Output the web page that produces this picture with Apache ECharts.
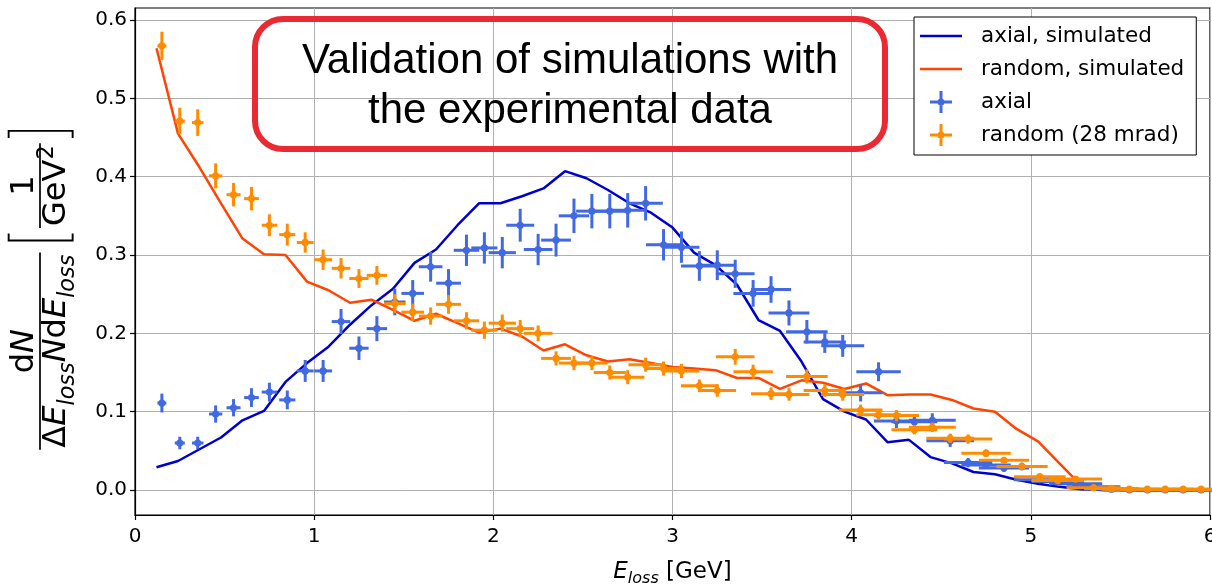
<!DOCTYPE html>
<html>
<head>
<meta charset="utf-8">
<script src="https://cdn.jsdelivr.net/npm/echarts@6/dist/echarts.min.js"></script>
<style>html,body{margin:0;padding:0;background:#fff;overflow:hidden;}#c{width:1212px;height:587px;}</style>
</head>
<body>
<div id="c"></div>
<script>
// ---------- DATA ----------
const xTicks = [0, 1, 2, 3, 4, 5, 6];
const yTicks = [0.0, 0.1, 0.2, 0.3, 0.4, 0.5, 0.6];

// simulated spectra (E_loss in GeV)
const simE = [0.12,0.24,0.36,0.48,0.60,0.72,0.84,0.96,1.08,1.20,1.32,1.44,1.56,1.68,1.80,1.92,2.04,2.16,2.28,2.40,
              2.52,2.64,2.76,2.88,3.00,3.12,3.24,3.36,3.48,3.60,3.72,3.84,3.96,4.08,4.20,4.32,4.44,4.56,4.68,4.80,
              4.92,5.04,5.16,5.28,5.40,5.52,5.64,5.76,5.88,6.00];
const axialSim = [0.029,0.037,0.052,0.067,0.089,0.101,0.138,0.162,0.183,0.211,0.236,0.257,0.290,0.307,0.338,0.366,0.366,0.375,0.385,0.407,
                  0.398,0.383,0.366,0.354,0.335,0.303,0.287,0.262,0.217,0.203,0.164,0.116,0.100,0.090,0.061,0.064,0.042,0.034,0.023,0.020,
                  0.013,0.008,0.004,0.001,0.000,0.000,0.000,0.000,0.000,0.000];
const randomSim = [0.564,0.455,0.412,0.366,0.321,0.301,0.300,0.266,0.255,0.239,0.243,0.230,0.216,0.225,0.213,0.201,0.206,0.196,0.178,0.186,
                   0.172,0.164,0.167,0.162,0.157,0.155,0.153,0.143,0.143,0.129,0.140,0.137,0.129,0.136,0.121,0.122,0.122,0.115,0.104,0.100,
                   0.078,0.062,0.034,0.006,0.002,0.001,0.001,0.001,0.001,0.001];

// experimental data (bin centres, GeV)
const expE = [0.15,0.25,0.35,0.45,0.55,0.65,0.75,0.85,0.95,1.05,1.15,1.25,1.35,1.45,1.55,1.65,1.75,1.85,1.95,2.05,
              2.15,2.25,2.35,2.45,2.55,2.65,2.75,2.85,2.95,3.05,3.15,3.25,3.35,3.45,3.55,3.65,3.75,3.85,3.95,4.05,
              4.15,4.25,4.35,4.45,4.55,4.65,4.75,4.85,4.95,5.05,5.15,5.25,5.35,5.45,5.55,5.65,5.75,5.85,5.95];
const expErrX = [0.025,0.028,0.032,0.037,0.039,0.041,0.043,0.045,0.047,0.050,0.052,0.054,0.057,0.060,0.063,0.066,0.069,0.071,0.073,0.076,
                 0.078,0.080,0.083,0.085,0.088,0.090,0.093,0.096,0.098,0.100,0.103,0.105,0.108,0.110,0.112,0.114,0.116,0.118,0.120,0.122,
                 0.124,0.126,0.128,0.131,0.133,0.135,0.138,0.140,0.142,0.144,0.146,0.148,0.150,0.152,0.154,0.156,0.158,0.160,0.162];
const axialExp = [0.111,0.060,0.060,0.097,0.105,0.118,0.125,0.115,0.152,0.152,0.215,0.181,0.206,0.240,0.251,0.285,0.264,0.306,0.309,0.303,
                  0.338,0.307,0.319,0.350,0.356,0.356,0.357,0.366,0.313,0.310,0.286,0.287,0.276,0.251,0.256,0.226,0.202,0.189,0.184,0.124,
                  0.151,0.088,0.087,0.089,0.063,0.035,0.032,0.028,0.030,0.013,0.011,0.008,0.004,0.001,0.000,0.000,0.000,0.000,0.000];
const axialErrY = [0.012,0.008,0.008,0.011,0.011,0.012,0.012,0.012,0.014,0.014,0.016,0.015,0.016,0.017,0.017,0.019,0.018,0.020,0.020,0.020,
                   0.021,0.020,0.021,0.022,0.022,0.022,0.022,0.022,0.020,0.020,0.019,0.019,0.018,0.017,0.017,0.016,0.015,0.014,0.014,0.011,
                   0.012,0.009,0.009,0.009,0.008,0.006,0.005,0.005,0.005,0.003,0.003,0.003,0.002,0.001,0.001,0.001,0.001,0.001,0.001];
const randomExp = [0.567,0.471,0.469,0.401,0.377,0.372,0.338,0.326,0.316,0.294,0.283,0.270,0.274,0.238,0.227,0.222,0.237,0.216,0.204,0.213,
                   0.206,0.200,0.168,0.162,0.162,0.150,0.144,0.160,0.155,0.152,0.133,0.127,0.170,0.151,0.123,0.122,0.145,0.127,0.122,0.102,
                   0.096,0.095,0.077,0.080,0.066,0.065,0.047,0.038,0.030,0.017,0.012,0.014,0.003,0.002,0.001,0.001,0.001,0.001,0.001];
const randomErrY = [0.018,0.017,0.017,0.016,0.015,0.015,0.014,0.014,0.013,0.013,0.013,0.012,0.012,0.012,0.011,0.011,0.012,0.011,0.011,0.011,
                    0.011,0.010,0.009,0.009,0.009,0.009,0.009,0.009,0.009,0.009,0.008,0.008,0.010,0.009,0.008,0.008,0.009,0.008,0.008,0.007,
                    0.007,0.007,0.006,0.006,0.006,0.006,0.005,0.004,0.004,0.003,0.003,0.003,0.002,0.001,0.001,0.001,0.001,0.001,0.001];

const seriesNames = ['axial, simulated', 'random, simulated', 'axial', 'random (28 mrad)'];
const titleLines = ['Validation of simulations with', 'the experimental data'];

// ---------- STYLE ----------
const C_AX_SIM = '#0000cd', C_RD_SIM = '#ff4500', C_AX_EXP = '#4169e1', C_RD_EXP = '#ff8c00';
const FONT = 'DejaVu Sans';

// ---------- helpers ----------
const mctx = document.createElement('canvas').getContext('2d');
function tw(t, s, it) { mctx.font = (it ? 'italic ' : '') + s + 'px "' + FONT + '"'; return mctx.measureText(t).width; }
function rowWidth(p) { return p.reduce((a, q) => a + tw(q.t, q.s, q.it), 0); }
function row(p, x, cy, out) {
  p.forEach(q => {
    out.push({ type: 'text', style: { text: q.t, x: x, y: cy + (q.dy || 0), fontSize: q.s, fontFamily: FONT,
      fontStyle: q.it ? 'italic' : 'normal', fill: '#000', align: 'left', verticalAlign: 'middle' } });
    x += tw(q.t, q.s, q.it);
  });
}

function buildYLabel() {
  const S = 32, sub = 0.7 * S;
  const num = [{ t: 'd', s: S }, { t: 'N', s: S, it: true }];
  const den = [{ t: 'Δ', s: S }, { t: 'E', s: S, it: true }, { t: 'loss', s: sub, it: true, dy: 0.34 * S },
               { t: 'N', s: S, it: true }, { t: 'd', s: S }, { t: 'E', s: S, it: true }, { t: 'loss', s: sub, it: true, dy: 0.34 * S }];
  const one = [{ t: '1', s: S }];
  const gev = [{ t: 'GeV', s: S }, { t: '2', s: sub, dy: -0.3 * S }];
  const Wn = rowWidth(num), Wd = rowWidth(den), Wf = Math.max(Wn, Wd) + 4;
  const W1 = rowWidth(one), Wg0 = rowWidth(gev), Wg = Math.max(W1, Wg0) + 4;
  const gap1 = 0.3 * S, wbr = 0.35 * S, gapIn = 0.12 * S;
  const total = Wf + gap1 + wbr + gapIn + Wg + gapIn + wbr;
  const lx0 = -total / 2, lyb = -5;
  const out = [];
  row(num, lx0 + (Wf - Wn) / 2, lyb - 0.48 * S, out);
  row(den, lx0 + (Wf - Wd) / 2, lyb + 0.53 * S, out);
  out.push({ type: 'line', shape: { x1: lx0, y1: lyb, x2: lx0 + Wf, y2: lyb }, style: { stroke: '#000', lineWidth: 1.7 } });
  const bA = lx0 + Wf + gap1 + 0.08 * S;
  const bT = lyb - 0.98 * S, bB = lyb + 1.02 * S;
  out.push({ type: 'polyline', shape: { points: [[bA + 0.22 * S, bT], [bA, bT], [bA, bB], [bA + 0.22 * S, bB]] }, style: { stroke: '#000', lineWidth: 1.9, fill: null } });
  const sx0 = lx0 + Wf + gap1 + wbr + gapIn;
  row(one, sx0 + (Wg - W1) / 2, lyb - 0.48 * S, out);
  row(gev, sx0 + (Wg - Wg0) / 2, lyb + 0.53 * S, out);
  out.push({ type: 'line', shape: { x1: sx0, y1: lyb, x2: sx0 + Wg, y2: lyb }, style: { stroke: '#000', lineWidth: 1.7 } });
  const bC = lx0 + total - 0.08 * S;
  out.push({ type: 'polyline', shape: { points: [[bC - 0.22 * S, bT], [bC, bT], [bC, bB], [bC - 0.22 * S, bB]] }, style: { stroke: '#000', lineWidth: 1.9, fill: null } });
  return { type: 'group', x: 45, y: 289, rotation: Math.PI / 2, children: out };
}

function errorBarSeries(name, ys, errY, color, z) {
  return {
    name: name, type: 'custom', xAxisIndex: 1, yAxisIndex: 1, z: z, clip: false,
    itemStyle: { color: color }, encode: { x: 0, y: 1 },
    data: expE.map((x, i) => [x, ys[i], expErrX[i], errY[i]]),
    renderItem: function (params, api) {
      const x = api.value(0), y = api.value(1), ex = api.value(2), ey = api.value(3);
      const c = api.coord([x, y]), l = api.coord([x - ex, y]), r = api.coord([x + ex, y]);
      const t = api.coord([x, y + ey]), b = api.coord([x, y - ey]);
      return { type: 'group', children: [
        { type: 'line', shape: { x1: l[0], y1: l[1], x2: r[0], y2: r[1] }, style: { stroke: color, lineWidth: 3 } },
        { type: 'line', shape: { x1: t[0], y1: t[1], x2: b[0], y2: b[1] }, style: { stroke: color, lineWidth: 3 } },
        { type: 'circle', shape: { cx: c[0], cy: c[1], r: 3.6 }, style: { fill: color } }
      ] };
    }
  };
}

const crossIcon = 'path://M0,9.5h22v3h-22z M9.5,0h3v22h-3z M7.5,11a3.5,3.5 0 1,1 7,0a3.5,3.5 0 1,1 -7,0z';
const lineIcon = 'path://M0,0h42v2.6h-42z';

const chart = echarts.init(document.getElementById('c'), null, { renderer: 'canvas' });
const axisLineStyle = { color: '#000', width: 1.2 };
chart.setOption({
  animation: false,
  backgroundColor: '#fff',
  grid: [
    { left: 135, right: 2, top: 8, bottom: 72, containLabel: false, outerBoundsMode: 'none',
      show: true, borderColor: '#000', borderWidth: 1.2, backgroundColor: 'transparent' },
    { left: 135, right: 2, top: 20, bottom: 97, containLabel: false, outerBoundsMode: 'none' }
  ],
  xAxis: [
    { gridIndex: 0, type: 'value', min: xTicks[0], max: xTicks[xTicks.length - 1], interval: 1,
      axisLine: { show: true, onZero: false, lineStyle: axisLineStyle },
      axisTick: { show: true, length: 5, lineStyle: axisLineStyle },
      axisLabel: { fontSize: 20, fontFamily: FONT, color: '#000', margin: 12 },
      splitLine: { show: true, lineStyle: { color: '#b0b0b0', width: 1 } },
      name: '{i|E}{s|loss}{n| [GeV]}', nameLocation: 'middle', nameGap: 42,
      nameTextStyle: { fontFamily: FONT, fontSize: 23, color: '#000',
        rich: { i: { fontFamily: FONT, fontSize: 23, fontStyle: 'italic', lineHeight: 30, verticalAlign: 'middle', color: '#000' },
                s: { fontFamily: FONT, fontSize: 16, fontStyle: 'italic', lineHeight: 16, verticalAlign: 'bottom', color: '#000' },
                n: { fontFamily: FONT, fontSize: 23, lineHeight: 30, verticalAlign: 'middle', color: '#000' } } } },
    { gridIndex: 1, type: 'value', min: xTicks[0], max: xTicks[xTicks.length - 1], show: false }
  ],
  yAxis: [
    { gridIndex: 0, type: 'value', min: -0.032, max: 0.616,
      axisLine: { show: true, onZero: false, lineStyle: axisLineStyle },
      axisTick: { show: false }, axisLabel: { show: false }, splitLine: { show: false } },
    { gridIndex: 1, type: 'value', min: yTicks[0], max: yTicks[yTicks.length - 1], interval: 0.1,
      axisLine: { show: false, onZero: false },
      axisTick: { show: true, length: 5, lineStyle: axisLineStyle },
      axisLabel: { fontSize: 20, fontFamily: FONT, color: '#000', margin: 8, formatter: v => v.toFixed(1) },
      splitLine: { show: true, lineStyle: { color: '#b0b0b0', width: 1 } } }
  ],
  legend: {
    left: 914, top: 17, orient: 'vertical', selectedMode: false,
    padding: [7, 12, 8, 6], itemWidth: 42, itemHeight: 22, itemGap: 9,
    borderColor: '#000', borderWidth: 1, backgroundColor: '#fff',
    textStyle: { fontFamily: FONT, fontSize: 21.5, color: '#000', lineHeight: 24, padding: [0, 0, 0, 14] },
    data: [
      { name: seriesNames[0], icon: lineIcon, itemStyle: { color: C_AX_SIM } },
      { name: seriesNames[1], icon: lineIcon, itemStyle: { color: C_RD_SIM } },
      { name: seriesNames[2], icon: crossIcon }, { name: seriesNames[3], icon: crossIcon }
    ]
  },
  graphic: [
    { type: 'rect', z: 50, shape: { x: 255, y: 19, width: 630, height: 130, r: 28 }, style: { fill: null, stroke: '#e92a33', lineWidth: 6 } },
    { type: 'text', z: 50, style: { text: titleLines[0], x: 570, y: 61, fontSize: 42, fontFamily: 'Liberation Sans', fill: '#000', align: 'center', verticalAlign: 'middle' } },
    { type: 'text', z: 50, style: { text: titleLines[1], x: 570, y: 111, fontSize: 42, fontFamily: 'Liberation Sans', fill: '#000', align: 'center', verticalAlign: 'middle' } },
    buildYLabel()
  ],
  series: [
    { name: seriesNames[0], type: 'line', xAxisIndex: 1, yAxisIndex: 1, z: 2, clip: false, symbol: 'none',
      color: C_AX_SIM, lineStyle: { color: C_AX_SIM, width: 2.5 }, data: simE.map((x, i) => [x, axialSim[i]]) },
    { name: seriesNames[1], type: 'line', xAxisIndex: 1, yAxisIndex: 1, z: 2, clip: false, symbol: 'none',
      color: C_RD_SIM, lineStyle: { color: C_RD_SIM, width: 2.5 }, data: simE.map((x, i) => [x, randomSim[i]]) },
    errorBarSeries(seriesNames[2], axialExp, axialErrY, C_AX_EXP, 3),
    errorBarSeries(seriesNames[3], randomExp, randomErrY, C_RD_EXP, 4)
  ]
});
</script>
</body>
</html>
